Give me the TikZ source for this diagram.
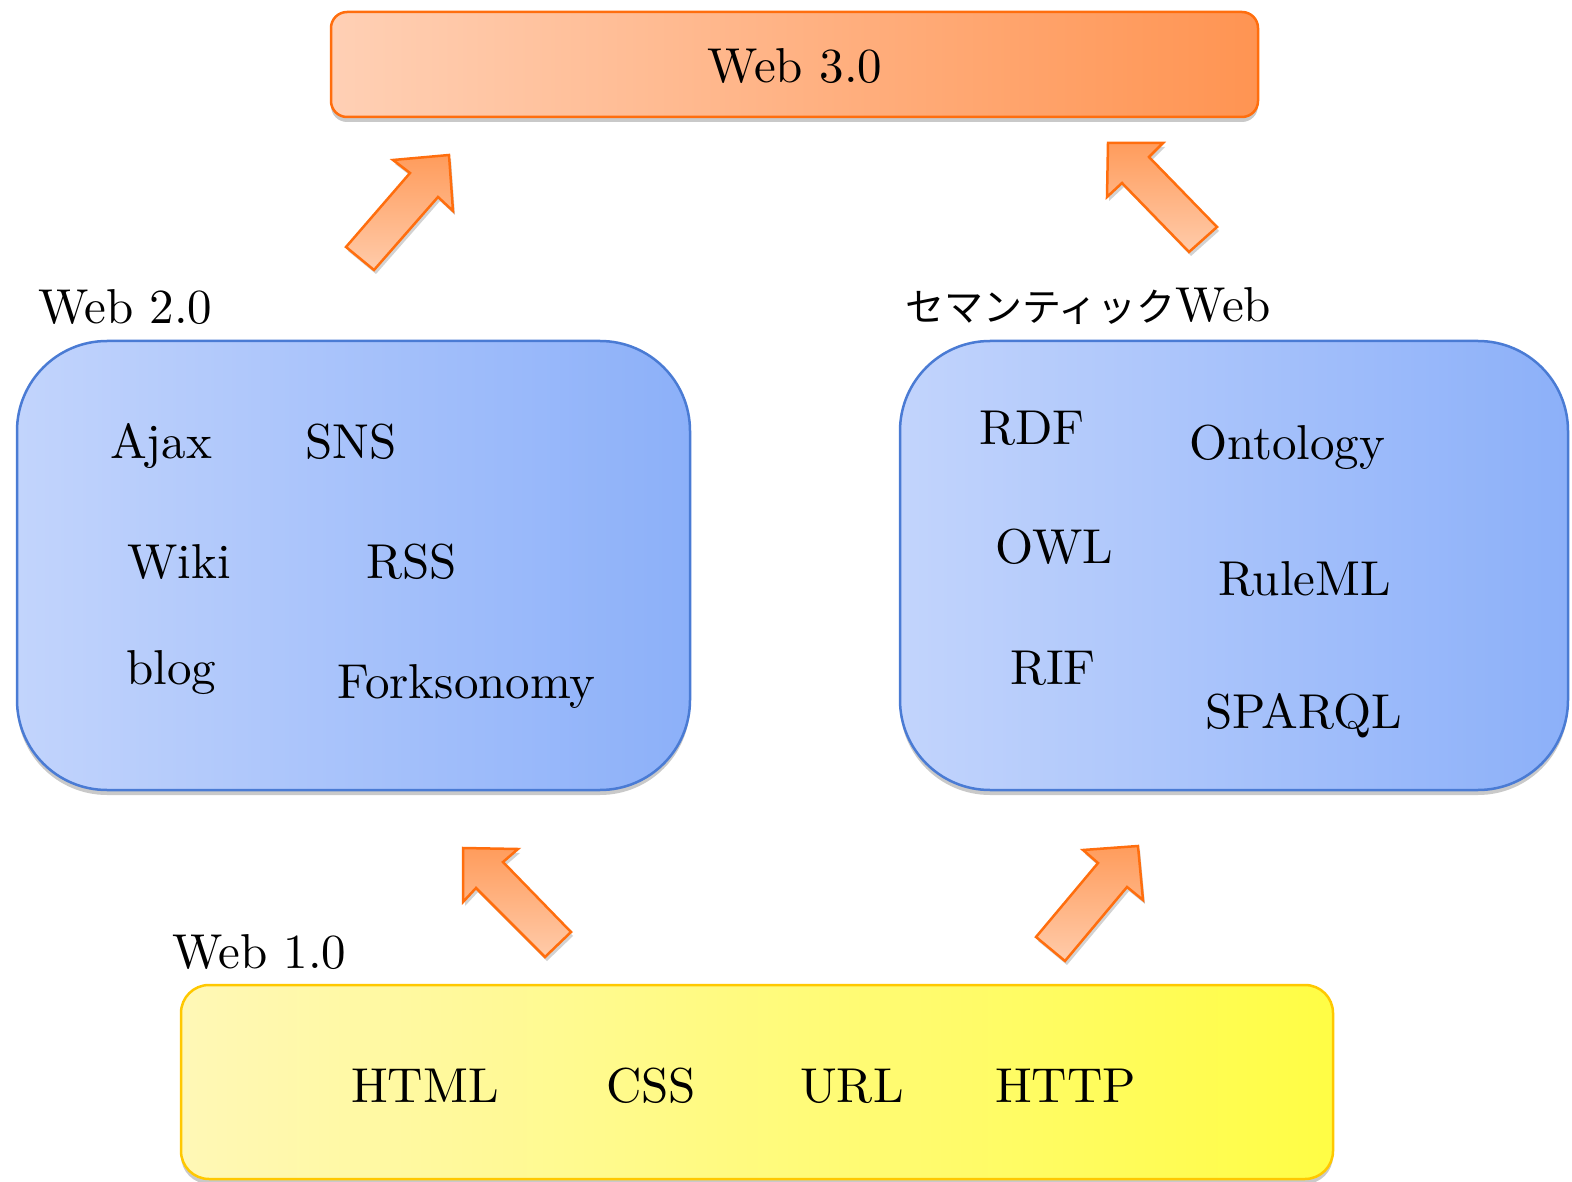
\documentclass[tikz,border=0pt]{standalone}
\usepackage{fontspec}
\setmainfont{lmroman10-regular.otf}
\newfontfamily\jpfont{Noto Sans CJK JP}
\usetikzlibrary{shadows}
\definecolor{orline}{HTML}{FF6E0E}
\definecolor{orlight}{HTML}{FFD0B5}
\definecolor{ormid}{HTML}{FFC4A2}
\definecolor{ordark}{HTML}{FF9452}
\definecolor{arlight}{HTML}{FFCBAA}
\definecolor{ardark}{HTML}{FF9C5C}
\definecolor{blline}{HTML}{4A7BD4}
\definecolor{bllight}{HTML}{C2D4FC}
\definecolor{blmid}{HTML}{B5CBFB}
\definecolor{bldark}{HTML}{8CB0F9}
\definecolor{yeline}{HTML}{FFC800}
\definecolor{yelight}{HTML}{FFF8B6}
\definecolor{yemid}{HTML}{FFF99A}
\definecolor{yedark}{HTML}{FFFD45}
\begin{document}
\begin{tikzpicture}[x=1pt,y=-1pt,
  lbl/.style={inner sep=0pt, anchor=base west, font=\fontsize{49}{60}\selectfont},
  shad/.style={drop shadow={shadow xshift=0pt, shadow yshift=-5pt, opacity=0.3, fill=black!70}},
  orangebox/.style={draw=orline, line width=2.5pt, rounded corners=16pt,
    left color=orlight, middle color=ormid, right color=ordark, shad},
  bluebox/.style={draw=blline, line width=2.5pt, rounded corners=90pt,
    left color=bllight, middle color=blmid, right color=bldark, shad},
  yellowbox/.style={draw=yeline, line width=2.5pt, rounded corners=28pt,
    left color=yelight, middle color=yemid, right color=yedark, shad},
  blockarrow/.style={draw=orline, line width=2.5pt, line join=miter,
    top color=ardark, bottom color=arlight,
    drop shadow={shadow xshift=2pt, shadow yshift=-4pt, opacity=0.25, fill=black!70}}
]
\useasboundingbox (0,0) rectangle (1572,1182);
% boxes
\node[orangebox, minimum width=927pt, minimum height=105pt] (w3) at (794.5,64.5) {};
\node[bluebox, minimum width=673pt, minimum height=449pt] (w2box) at (353.5,565.5) {};
\node[bluebox, minimum width=668pt, minimum height=449pt] (swbox) at (1234,565.5) {};
\node[yellowbox, minimum width=1152pt, minimum height=194pt] (w1box) at (757,1082) {};
% arrows
\draw[blockarrow] (346,247) -- (410,173) -- (393,160) -- (449,155) -- (453,211) -- (438,197) -- (374,270) -- cycle;
\draw[blockarrow] (1108,143) -- (1163,143) -- (1149,157) -- (1217,227) -- (1189,252) -- (1122,183) -- (1107,197) -- cycle;
\draw[blockarrow] (463,848) -- (518,849) -- (503,862) -- (571,932) -- (545,957) -- (476,888) -- (463,902) -- cycle;
\draw[blockarrow] (1138,846) -- (1083,850) -- (1098,863) -- (1036,937) -- (1065,961) -- (1127,887) -- (1143,900) -- cycle;
% titles
\node[inner sep=0pt, font=\fontsize{49}{60}\selectfont] (t3) at (795,66) {Web 3.0};
\node[lbl] (t2) at (38,324) {Web 2.0};
\node[lbl] (tsw) at (905,322) {{\jpfont\fontsize{39}{40}\selectfont セマンティック}Web};
\node[lbl] (t1) at (172,968) {Web 1.0};
% Web 2.0 items
\node[lbl] (ajax) at (110,458) {Ajax};
\node[lbl] (sns) at (305,458) {SNS};
\node[lbl] (wiki) at (127,578) {Wiki};
\node[lbl] (rss) at (366,578) {RSS};
\node[lbl] (blog) at (126,684) {blog};
\node[lbl] (fork) at (337,698) {Forksonomy};
% Semantic web items
\node[lbl] (rdf) at (979,444) {RDF};
\node[lbl] (onto) at (1189,459) {Ontology};
\node[lbl] (owl) at (995,563) {OWL};
\node[lbl] (ruleml) at (1218,595) {RuleML};
\node[lbl] (rif) at (1010,684) {RIF};
\node[lbl] (sparql) at (1205,728) {SPARQL};
% Web 1.0 items
\node[lbl] (html) at (351,1102) {HTML};
\node[lbl] (css) at (606,1102) {CSS};
\node[lbl] (url) at (800,1102) {URL};
\node[lbl] (http) at (995,1102) {HTTP};
\end{tikzpicture}
\end{document}
